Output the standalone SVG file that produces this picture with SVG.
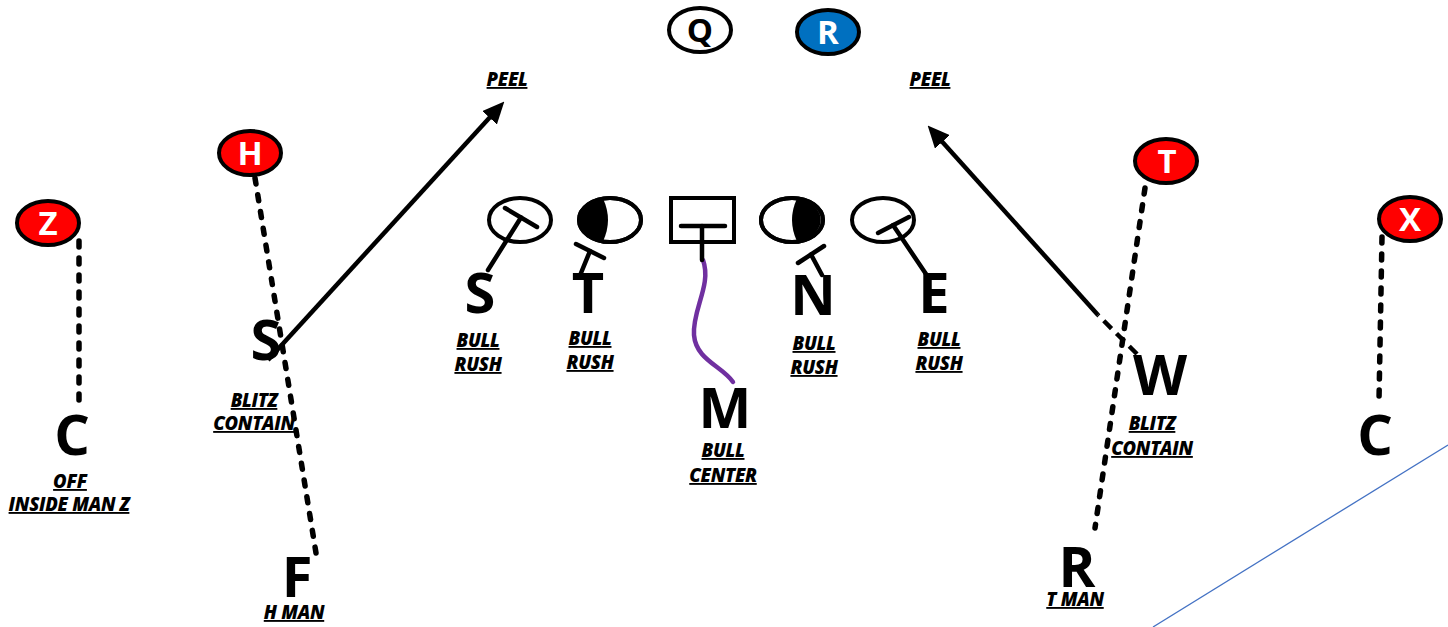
<svg xmlns="http://www.w3.org/2000/svg" width="1448" height="627" viewBox="0 0 1448 627">
<style>
.bg{fill:#fff}
.red{fill:#ff0000;stroke:#000;stroke-width:4}
.wht{fill:#fff;stroke:#000;stroke-width:4}
.blu{fill:#0070c0;stroke:#000;stroke-width:4}
.el{fill:#fff;stroke:#000;stroke-width:4}
.tee{stroke:#000;stroke-width:4.5;stroke-linecap:round;fill:none}
.ol{font-family:"Open Sans","Liberation Sans",sans-serif;font-weight:700;font-size:33px;text-anchor:middle;fill:#fff}
.olb{fill:#000}
.big{font-family:"Open Sans","Liberation Sans",sans-serif;font-weight:700;font-size:56px;text-anchor:middle;fill:#000}
.lbl{font-family:"Open Sans","Liberation Sans",sans-serif;font-weight:800;font-style:italic;font-size:18.5px;text-anchor:middle;fill:#000;text-decoration:underline;letter-spacing:-0.3px}
.dot{stroke:#000;stroke-width:5.5;stroke-linecap:round;stroke-dasharray:6 11;fill:none}
.sol{stroke:#000;stroke-width:4.5;fill:none}
.dsh{stroke:#000;stroke-width:4.5;stroke-dasharray:11 7;fill:none}
</style>
<defs>
<marker id="ah" markerUnits="userSpaceOnUse" markerWidth="22" markerHeight="20" refX="4" refY="10" orient="auto">
<path d="M0,0 L22,10 L0,20 Z" fill="#000"/>
</marker>
</defs>
<rect class="bg" x="0" y="0" width="1448" height="627"/>

<g id="connectors">
<line class="dot" x1="79" y1="241" x2="79" y2="404"/>
<line class="dot" x1="255" y1="178" x2="316" y2="553"/>
<line class="dot" x1="1145" y1="188" x2="1095" y2="528"/>
<line class="dot" x1="1382" y1="237" x2="1379" y2="400"/>
<line class="sol" x1="268" y1="360" x2="492.2" y2="114.8" marker-end="url(#ah)"/>
<line class="dsh" x1="1137" y1="354" x2="1098" y2="315"/>
<line class="sol" x1="1098" y1="315" x2="939.7" y2="138.9" marker-end="url(#ah)"/>
<path d="M703,260 C712,285 692,310 694,335 C696,360 722,366 733,382" stroke="#7030a0" stroke-width="4.5" fill="none" stroke-linecap="round"/>
<line x1="1153" y1="627" x2="1448" y2="445" stroke="#4472c4" stroke-width="1.3"/>
</g>

<g id="node-Q">
<ellipse class="wht" cx="700" cy="30" rx="31" ry="22"/>
<text class="ol olb" x="700" y="42">Q</text>
</g>
<g id="node-R-back">
<ellipse class="blu" cx="828" cy="32" rx="31" ry="22"/>
<text class="ol" x="828" y="44">R</text>
</g>
<g id="node-Z">
<ellipse class="red" cx="48" cy="223" rx="31" ry="22"/>
<text class="ol" x="48" y="235">Z</text>
</g>
<g id="node-H">
<ellipse class="red" cx="250" cy="153" rx="31" ry="22"/>
<text class="ol" x="250" y="165">H</text>
</g>
<g id="node-T-rec">
<ellipse class="red" cx="1166" cy="161" rx="31" ry="22"/>
<text class="ol" x="1167" y="173">T</text>
</g>
<g id="node-X">
<ellipse class="red" cx="1410" cy="219" rx="31" ry="22"/>
<text class="ol" x="1410" y="231">X</text>
</g>

<g id="ol-S">
<ellipse class="el" cx="520" cy="220" rx="31" ry="22"/>
<line class="tee" x1="505" y1="208" x2="537" y2="227"/>
<line class="tee" x1="521" y1="217.5" x2="488" y2="270"/>
</g>
<g id="ol-T">
<ellipse class="el" cx="610" cy="220" rx="31" ry="22"/>
<path d="M603,198.6 A31,22 0 0,0 603,241.4 Q613,220 603,198.6 Z" fill="#000"/>
<ellipse cx="610" cy="220" rx="31" ry="22" fill="none" stroke="#000" stroke-width="4"/>
<line class="tee" x1="576" y1="244" x2="604" y2="258"/>
<line class="tee" x1="590" y1="251" x2="581" y2="273"/>
</g>
<g id="ol-C">
<rect class="el" x="671" y="198" width="63" height="44"/>
<line class="tee" x1="681" y1="226" x2="725" y2="226"/>
<line class="tee" x1="702" y1="226" x2="702" y2="260"/>
</g>
<g id="ol-N">
<ellipse class="el" cx="792" cy="220" rx="31" ry="22"/>
<path d="M797,198.6 A31,22 0 0,1 797,241.4 Q787,220 797,198.6 Z" fill="#000"/>
<ellipse cx="792" cy="220" rx="31" ry="22" fill="none" stroke="#000" stroke-width="4"/>
<line class="tee" x1="798" y1="263" x2="824" y2="246"/>
<line class="tee" x1="811" y1="254.5" x2="822" y2="275"/>
</g>
<g id="ol-E">
<ellipse class="el" cx="883" cy="220" rx="31" ry="22"/>
<line class="tee" x1="878" y1="233" x2="909" y2="217"/>
<line class="tee" x1="893" y1="225" x2="928" y2="277"/>
</g>

<g id="def-S">
<text class="big" x="480" y="313">S</text>
<text class="lbl" x="478" y="347">BULL</text>
<text class="lbl" x="478" y="371">RUSH</text>
</g>
<g id="def-T">
<text class="big" x="588" y="313">T</text>
<text class="lbl" x="590" y="345">BULL</text>
<text class="lbl" x="590" y="369">RUSH</text>
</g>
<g id="def-N">
<text class="big" x="813" y="315">N</text>
<text class="lbl" x="814" y="350">BULL</text>
<text class="lbl" x="814" y="374">RUSH</text>
</g>
<g id="def-E">
<text class="big" x="934" y="313">E</text>
<text class="lbl" x="939" y="346">BULL</text>
<text class="lbl" x="939" y="370">RUSH</text>
</g>
<g id="def-M">
<text class="big" x="725" y="428">M</text>
<text class="lbl" x="723" y="457">BULL</text>
<text class="lbl" x="723" y="482">CENTER</text>
</g>
<g id="def-Sam">
<text class="big" x="266" y="360">S</text>
<text class="lbl" x="254" y="407">BLITZ</text>
<text class="lbl" x="254" y="430">CONTAIN</text>
</g>
<g id="def-W">
<text class="big" x="1160" y="395">W</text>
<text class="lbl" x="1152" y="430">BLITZ</text>
<text class="lbl" x="1152" y="455">CONTAIN</text>
</g>
<g id="def-C-left">
<text class="big" x="72" y="455">C</text>
<text class="lbl" x="70" y="488">OFF</text>
<text class="lbl" x="69" y="511">INSIDE MAN Z</text>
</g>
<g id="def-C-right">
<text class="big" x="1375" y="455">C</text>
</g>
<g id="def-F">
<text class="big" x="297" y="597">F</text>
<text class="lbl" x="294" y="619">H MAN</text>
</g>
<g id="def-R">
<text class="big" x="1077" y="587">R</text>
<text class="lbl" x="1075" y="606">T MAN</text>
</g>
<g id="label-peel-left">
<text class="lbl" x="507" y="86">PEEL</text>
</g>
<g id="label-peel-right">
<text class="lbl" x="930" y="86">PEEL</text>
</g>
</svg>
